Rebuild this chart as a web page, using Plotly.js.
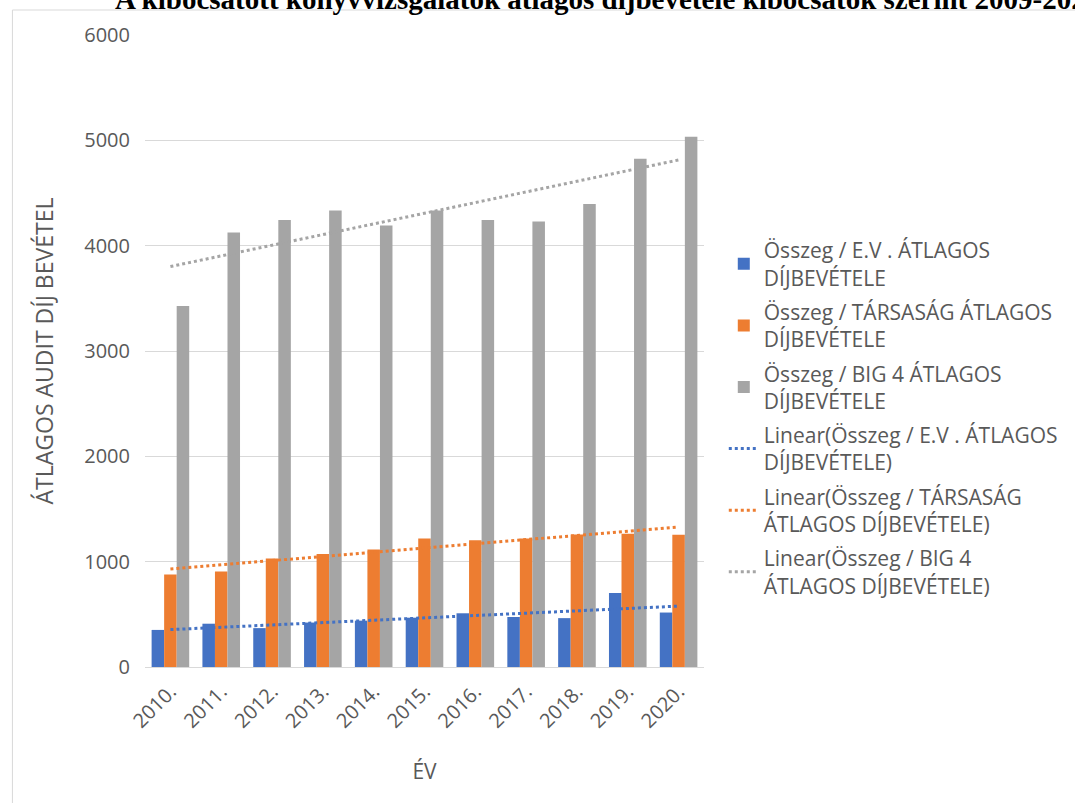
<!DOCTYPE html>
<html>
<head>
<meta charset="utf-8">
<script src="https://cdn.plot.ly/plotly-3.0.1.min.js"></script>
<style>html,body{margin:0;padding:0;background:#fff;}#chart{width:1075px;height:803px;}</style>
</head>
<body>
<div id="chart"></div>
<script>
// ---- data ----
const years = ["2010.", "2011.", "2012.", "2013.", "2014.", "2015.", "2016.", "2017.", "2018.", "2019.", "2020."];
const evAvg = [352, 411, 369, 422, 440, 468, 510, 475, 464, 703, 517];
const tarsasagAvg = [879, 907, 1030, 1072, 1115, 1220, 1203, 1220, 1259, 1266, 1255];
const big4Avg = [3428, 4124, 4244, 4335, 4191, 4335, 4244, 4230, 4395, 4824, 5035];

const seriesNames = [
  "Összeg / E.V . ÁTLAGOS<br>DÍJBEVÉTELE",
  "Összeg / TÁRSASÁG ÁTLAGOS<br>DÍJBEVÉTELE",
  "Összeg / BIG 4 ÁTLAGOS<br>DÍJBEVÉTELE"
];
const trendNames = [
  "Linear(Összeg / E.V . ÁTLAGOS<br>DÍJBEVÉTELE)",
  "Linear(Összeg / TÁRSASÁG<br>ÁTLAGOS DÍJBEVÉTELE)",
  "Linear(Összeg / BIG 4<br>ÁTLAGOS DÍJBEVÉTELE)"
];
const colors = ["#4472C4", "#ED7D31", "#A5A5A5"];

// Excel-style linear trendline (least squares over category index)
function linearTrend(vals) {
  const n = vals.length;
  let sx = 0, sy = 0, sxx = 0, sxy = 0;
  vals.forEach((v, i) => { const x = i + 1; sx += x; sy += v; sxx += x * x; sxy += x * v; });
  const b = (n * sxy - sx * sy) / (n * sxx - sx * sx);
  const a = (sy - b * sx) / n;
  return vals.map((v, i) => a + b * (i + 1));
}

const allSeries = [evAvg, tarsasagAvg, big4Avg];
const font = "'Open Sans', 'Noto Sans', sans-serif";
const textColor = "#595959";

const traces = [];
allSeries.forEach((vals, k) => {
  traces.push({
    type: "bar", x: years, y: vals, name: seriesNames[k],
    marker: {color: colors[k]}, legendgroup: "g" + k
  });
});
allSeries.forEach((vals, k) => {
  traces.push({
    type: "scatter", mode: "lines", x: years, y: linearTrend(vals), name: trendNames[k],
    line: {color: colors[k], dash: "dot", width: 3}, legendgroup: "t" + k
  });
});

const plotL = 145, plotR = 710, plotT = 35, plotB = 667;
const W = 1075, H = 803;
const pw = plotR - plotL, ph = plotB - plotT;
const px2x = p => (p - plotL) / pw;
const py2y = p => (plotB - p) / ph;

const layout = {
  width: W, height: H,
  margin: {l: plotL, r: W - plotR, t: plotT, b: H - plotB, pad: 0},
  paper_bgcolor: "#ffffff", plot_bgcolor: "#ffffff",
  font: {family: font, color: textColor, size: 20},
  barmode: "group", bargap: 0.26, bargroupgap: 0,
  showlegend: true,
  legend: {
    x: px2x(730), xanchor: "left", y: py2y(230), yanchor: "top",
    font: {family: font, size: 21, color: textColor},
    tracegroupgap: 4, valign: "middle", bgcolor: "rgba(0,0,0,0)"
  },
  xaxis: {
    type: "category", tickangle: -45, showgrid: false, zeroline: false,
    showline: true, linecolor: "#d9d9d9", linewidth: 1,
    tickfont: {family: font, size: 20, color: textColor},
    ticklabelstandoff: 4,
    title: {text: "ÉV", font: {family: font, size: 21, color: textColor}, standoff: 31}
  },
  yaxis: {
    range: [0, 6000], dtick: 1000, tick0: 0, showgrid: true, gridcolor: "#d9d9d9", gridwidth: 1,
    zeroline: false, showline: false,
    tickfont: {family: font, size: 20, color: textColor},
    ticklabelstandoff: 14,
    title: {text: "ÁTLAGOS AUDIT DÍJ BEVÉTEL", font: {family: font, size: 23, color: textColor}, standoff: 24}
  },
  shapes: [
    {type: "rect", xref: "paper", yref: "paper",
     x0: px2x(11), x1: px2x(W + 20), y0: py2y(H + 20), y1: py2y(10),
     line: {color: "#d9d9d9", width: 1}, fillcolor: "rgba(0,0,0,0)", layer: "below"}
  ],
  annotations: [
    {text: "<b>A kibocsátott könyvvizsgálatok átlagos díjbevétele kibocsátók szerint 2009-2020</b>",
     xref: "paper", yref: "paper", x: px2x(113), xanchor: "left", y: py2y(17), yanchor: "bottom",
     showarrow: false, font: {family: "'Liberation Serif', 'Times New Roman', serif", size: 29, color: "#000000"}}
  ]
};

Plotly.newPlot("chart", traces, layout, {displayModeBar: false, staticPlot: true});
</script>
</body>
</html>
